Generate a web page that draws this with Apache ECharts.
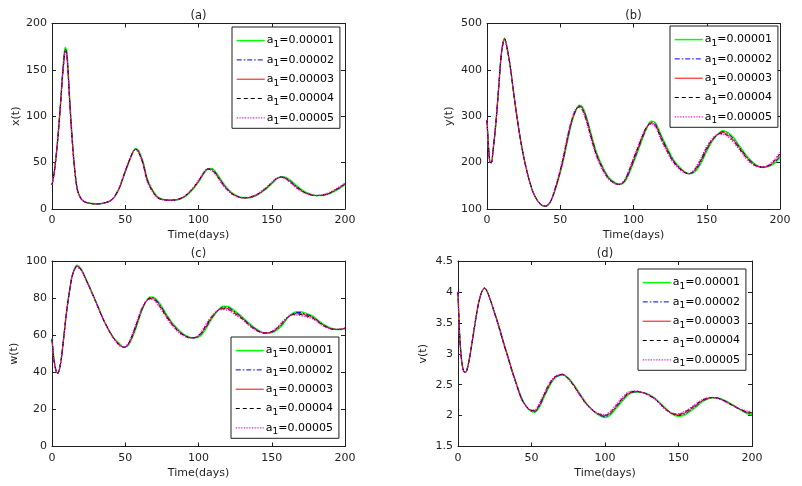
<!DOCTYPE html>
<html><head><meta charset="utf-8">
<script src="https://cdn.jsdelivr.net/npm/echarts@6/dist/echarts.min.js"></script>
<style>html,body{margin:0;padding:0;background:#fff}#c{width:802px;height:486px}</style>
</head><body><div id="c"></div>
<script>
// ---------- data ----------
const A1_VALUES = ['0.00001','0.00002','0.00003','0.00004','0.00005'];
const PANEL_TITLES = ['(a)','(b)','(c)','(d)'];
const Y_NAMES = ['x(t)','y(t)','w(t)','v(t)'];
const X_NAME = 'Time(days)';
const X_TICKS = [0, 200, 50];
const Y_TICKS_A = [0, 200, 50];
const Y_TICKS_B = [100, 500, 100];
const Y_TICKS_C = [0, 100, 20];
const Y_TICKS_D = [1.5, 4.5, 0.5];

const TIME_A = [0,1,2,3,4,5,6,7,8,9,10,11,12,13,14,15,16,17,18,20,22,25,30,35,40,43,46,49,52,55,57,59,62,65,68,72,76,80,85,90,95,100,103,106,109,113,117,121,125,130,135,140,145,150,153,156,159,163,167,171,175,180,185,190,195,200];
const X_A1 = [26,34,45,60,77,96,118,142,161,174,171,150,121,95,72,52,36,24,17.5,10.8,8.2,6.4,5.5,6.1,8.8,13.6,22.4,35.2,48.3,60.3,65,63.2,51.8,32.8,22.2,13.2,10.4,9.5,9.8,12.5,19.2,29,36.6,42.7,43.7,37,27.5,20,15.2,12.3,12.2,15,20.2,27.2,32,34.6,34.4,30.5,25,20.2,16.8,14.6,14.6,17,21,26];
const X_A2 = [26,34,45,60,77,96,117.5,141,159.5,172.5,169.5,148.5,119.5,94,71,51,35.5,23.5,17.2,10.6,8.1,6.3,5.5,6.2,8.9,13.8,22.7,35.6,48.7,60.4,64.8,62.6,50.9,31.9,21.6,12.8,10.2,9.45,9.9,12.8,19.6,29.5,37,42.9,43.1,36.2,26.8,19.5,14.8,12.1,12.3,15.2,20.6,27.6,32.3,34.5,33.9,29.8,24.2,19.6,16.4,14.5,14.8,17.2,21.5,26.5];
const X_A3 = [26,34,45,60,77,96,117,140,158,171,168,147,118,93,70,50,35,23,17,10.5,8,6.3,5.5,6.2,9,14,23,36,49,60.5,64.5,62,50,31,21,12.5,10,9.4,10,13,20,30,37.5,43,42.5,35.5,26,19,14.5,12,12.5,15.5,21,28,32.5,34.3,33.5,29,23.5,19,16,14.5,15,17.5,22,27];
const X_A4 = [26,34,45,60,77,96,116.5,139,157,170,167,146,117,92,69,49.5,34.5,22.8,16.8,10.4,7.9,6.3,5.5,6.3,9.1,14.2,23.4,36.5,49.5,60.7,64.3,61.5,49.3,30.3,20.5,12.2,9.9,9.4,10.1,13.2,20.4,30.5,38,43.2,42,34.8,25.4,18.6,14.3,12,12.7,15.8,21.4,28.4,32.8,34.2,33.1,28.4,23,18.7,15.8,14.5,15.2,17.8,22.4,27.4];
const X_A5 = [26,34,45,60,77,96,116,138,156,169,166,145,116,91,68,49,34,22.5,16.6,10.3,7.8,6.2,5.5,6.3,9.2,14.4,23.8,37,50,61,64,61,48.6,29.6,20,11.9,9.8,9.4,10.2,13.5,20.8,31,38.5,43.2,41.5,34,24.8,18.2,14,12,12.9,16.1,21.8,28.8,33,34,32.6,27.8,22.5,18.3,15.6,14.5,15.4,18.2,22.8,27.8];

const TIME_B = [0,1,2,3,4,6,8,10,12,14,16,19,22,25,28,31,34,37,40,43,46,49,52,55,58,61,63,65,68,71,75,79,83,87,90,94,98,102,106,109,112,115,119,123,127,131,135,138,142,146,150,154,158,161,164,168,172,176,180,184,188,192,196,200];
const Y_B1 = [292,235,201,200,222,283,363,440,468,443,404,331,266,213,172,140,120,109,106,114,135.6,166.7,202.8,247.4,288.5,314.5,323.5,320.5,297.5,262.5,219.5,190.6,168.4,157.2,153,158.6,184.2,216.4,250.6,274,289,285.8,258.4,231.8,207.6,191.4,180.2,176,180.4,198.6,225,247.4,262.7,269,265.8,255,237.3,220,205,194.5,189.5,191.5,198,210];
const Y_B2 = [292,235,201,200,222,283,363,440,467.5,442.5,404,331,266,213,172,140,120,109,106,114,136.8,168.4,205.4,250.2,290.2,315.2,322.2,318.8,294.8,259.8,217.2,188.8,167.2,156.6,153,159.8,186.6,219.2,252.8,275,287.5,283.4,255.7,229.4,205.8,190.2,179.6,176,182.2,201.3,227.5,248.7,262.3,267,263.4,252.5,235.2,218,203.5,193.8,189.8,192.2,200,213];
const Y_B3 = [292,235,201,200,222,283,363,440,467,442,404,331,266,213,172,140,120,109,106,114,138,170,208,253,292,316,321,317,292,257,215,187,166,156,153,161,189,222,255,276,286,281,253,227,204,189,179,176,184,204,230,250,262,265,261,250,233,216,202,193,190,193,202,216];
const Y_B4 = [292,235,201,200,222,283,363,440,466.5,441.5,404,331,266,213,172,140,120,109,106,114,139.2,171.6,210.6,255.8,293.7,316.8,319.8,315.2,289.2,254.2,212.8,185.2,164.8,155.4,153.1,162.2,191.4,224.8,257.2,277,284.5,278.6,250.3,224.6,202.2,187.8,178.4,176.1,185.8,206.7,232.5,251.3,261.6,263,258.6,247.5,230.8,214,200.5,192.2,190.2,193.8,204,219];
const Y_B5 = [292,235,201,200,222,283,363,440,466,441,404,331,266,213,172,140,120,109,106,114,140.4,173.3,213.2,258.6,295.4,317.5,318.5,313.5,286.5,251.5,210.5,183.4,163.6,154.8,153.2,163.4,193.8,227.6,259.4,278,283,276.2,247.6,222.2,200.4,186.6,177.8,176.3,187.6,209.4,235,252.6,261.3,261,256.2,245,228.7,212,199,191.5,190.5,194.5,206,222];

const TIME_C = [0,1,2,3,4,6,8,10,12,14,17,20,23,26,30,34,38,42,46,49,52,55,58,61,64,67,70,74,78,82,86,90,94,97,101,105,109,113,117,121,125,129,133,137,141,145,149,153,157,161,164,167,170,174,178,182,186,190,194,197,200];
const W_C1 = [58,49,43.5,40.3,39.5,45.5,58.6,72.9,84,92.7,97.7,95.6,90.6,85.4,78,70.5,64,58.7,55.45,53.5,54.4,59.1,65.4,72.6,77.8,80.6,80.15,76.6,71.4,66.8,63.2,60.45,58.9,58.6,59.4,63.4,68.8,73.1,75.6,75.2,73,70.4,67.5,64.8,62.6,61.2,61.2,62.6,65.3,69.5,71.6,72.7,72.65,71.6,70.25,67.75,65.5,63.9,63.1,63.1,63.5];
const W_C2 = [58,49,43.5,40.3,39.5,45.5,58.65,72.95,84,92.6,97.45,95.4,90.45,85.3,77.9,70.4,63.9,58.6,55.1,53.5,54.7,59.55,65.95,72.95,77.9,80.3,79.8,76.05,70.95,66.4,62.85,60.2,58.8,58.6,59.8,64,69.2,73.15,75.15,74.7,72.5,70.05,67.15,64.5,62.4,61.2,61.35,62.9,65.75,69.6,71.4,72.25,72.1,71.15,69.9,67.5,65.25,63.75,63.1,63.15,63.6];
const W_C3 = [58,49,43.5,40.3,39.5,45.5,58.7,73,84,92.5,97.2,95.2,90.3,85.2,77.8,70.3,63.8,58.5,54.8,53.5,55,60,66.5,73.3,78,80,79.4,75.5,70.5,66,62.5,60,58.7,58.6,60.2,64.6,69.6,73.2,74.7,74.2,72,69.7,66.8,64.2,62.2,61.2,61.5,63.2,66.2,69.7,71.2,71.8,71.6,70.7,69.5,67.2,65,63.6,63.1,63.2,63.7];
const W_C4 = [58,49,43.5,40.3,39.5,45.5,58.75,73.05,84,92.4,97,95.1,90.2,85.1,77.7,70.2,63.7,58.4,54.5,53.5,55.3,60.45,67.05,73.65,78.1,79.7,79,74.95,70.05,65.6,62.15,59.8,58.6,58.6,60.6,65.2,70,73.25,74.25,73.7,71.5,69.35,66.45,63.9,62,61.2,61.65,63.5,66.65,69.8,71,71.35,71.1,70.25,69.1,66.9,64.75,63.45,63.1,63.25,63.8];
const W_C5 = [58,49,43.5,40.3,39.5,45.5,58.8,73.1,84,92.3,96.8,94.9,90,85,77.6,70.1,63.6,58.3,54.15,53.5,55.6,60.9,67.6,74,78.2,79.4,78.65,74.4,69.6,65.2,61.8,59.55,58.5,58.6,61,65.8,70.4,73.3,73.8,73.2,71,69,66.1,63.6,61.8,61.2,61.8,63.8,67.1,69.9,70.8,70.9,70.55,69.8,68.75,66.65,64.5,63.3,63.1,63.3,63.9];

const TIME_D = [0,1,2,3,4,5,6,8,10,12,14,16,18,20,22,25,28,31,34,37,40,43,46,49,52,55,58,61,64,67,71,75,79,83,87,91,95,100,104,108,112,116,121,126,130,134,138,142,146,150,154,158,162,166,170,173,177,181,185,189,193,197,200];
const V_D1 = [4.0,3.35,3.0,2.8,2.71,2.7,2.73,2.95,3.25,3.55,3.82,3.99,4.06,4.0,3.87,3.66,3.43,3.18,2.95,2.71,2.5,2.3,2.16,2.08,2.055,2.12,2.27,2.42,2.55,2.625,2.655,2.61,2.49,2.35,2.21,2.1,2.02,1.97,2.02,2.13,2.24,2.34,2.38,2.37,2.34,2.28,2.19,2.1,2.02,1.99,2.01,2.07,2.14,2.22,2.27,2.29,2.285,2.25,2.2,2.14,2.08,2.03,2.01];
const V_D2 = [4.0,3.35,3.0,2.8,2.71,2.7,2.73,2.95,3.25,3.55,3.82,3.99,4.06,4.0,3.87,3.655,3.425,3.175,2.945,2.705,2.495,2.295,2.16,2.085,2.06,2.135,2.285,2.435,2.56,2.632,2.66,2.605,2.485,2.34,2.205,2.1,2.025,1.982,2.035,2.145,2.255,2.35,2.385,2.37,2.335,2.275,2.185,2.095,2.025,2.0,2.025,2.085,2.155,2.23,2.275,2.29,2.283,2.245,2.195,2.14,2.085,2.04,2.022];
const V_D3 = [4.0,3.35,3.0,2.8,2.71,2.7,2.73,2.95,3.25,3.55,3.82,3.99,4.06,4.0,3.87,3.65,3.44,3.19,2.95,2.72,2.49,2.27,2.17,2.09,2.07,2.15,2.3,2.45,2.57,2.64,2.665,2.6,2.48,2.33,2.2,2.1,2.03,1.995,2.05,2.16,2.27,2.36,2.39,2.37,2.33,2.27,2.18,2.09,2.03,2.01,2.04,2.1,2.17,2.24,2.28,2.29,2.28,2.24,2.19,2.14,2.09,2.05,2.035];
const V_D4 = [4.0,3.35,3.0,2.8,2.71,2.7,2.73,2.95,3.25,3.55,3.82,3.99,4.06,4.0,3.87,3.645,3.415,3.165,2.935,2.695,2.485,2.285,2.16,2.095,2.08,2.165,2.315,2.465,2.58,2.645,2.668,2.595,2.475,2.325,2.195,2.1,2.035,2.005,2.065,2.175,2.285,2.37,2.395,2.37,2.325,2.265,2.175,2.085,2.035,2.02,2.055,2.115,2.185,2.25,2.285,2.292,2.277,2.235,2.185,2.135,2.095,2.06,2.047];
const V_D5 = [4.0,3.35,3.0,2.8,2.71,2.7,2.73,2.95,3.25,3.55,3.82,3.99,4.06,4.0,3.87,3.64,3.41,3.16,2.93,2.69,2.48,2.28,2.16,2.1,2.09,2.18,2.33,2.48,2.59,2.65,2.67,2.59,2.47,2.32,2.19,2.1,2.04,2.015,2.08,2.19,2.3,2.38,2.4,2.37,2.32,2.26,2.17,2.08,2.04,2.03,2.065,2.125,2.195,2.255,2.29,2.294,2.274,2.23,2.18,2.13,2.1,2.07,2.06];

// ---------- styling / layout ----------
const FONT = 'DejaVu Sans';
const INK = '#1f1f1f';
const COLORS = ['#00ff00','#0000ff','#ff0000','#000000','#ff00ff'];
const DASHES = ['solid',[5,2,1.5,2],'solid',[4,3],[1.2,1.5]];
const WIDTHS = [1.5,1,1,1,1.3];

const PANELS = [
  {time: TIME_A, ys: [X_A1,X_A2,X_A3,X_A4,X_A5], yt: Y_TICKS_A,
   grid: {left:52, top:23.5, width:293, height:185.5}, legend: {left:232, top:27}, nameGap: 30},
  {time: TIME_B, ys: [Y_B1,Y_B2,Y_B3,Y_B4,Y_B5], yt: Y_TICKS_B,
   grid: {left:487, top:23.5, width:293, height:185.5}, legend: {left:670, top:26}, nameGap: 32},
  {time: TIME_C, ys: [W_C1,W_C2,W_C3,W_C4,W_C5], yt: Y_TICKS_C,
   grid: {left:52, top:261, width:293, height:185.5}, legend: {left:231, top:337}, nameGap: 32},
  {time: TIME_D, ys: [V_D1,V_D2,V_D3,V_D4,V_D5], yt: Y_TICKS_D,
   grid: {left:458, top:261, width:294, height:185.5}, legend: {left:638, top:269}, nameGap: 29}
];

const seriesName = v => 'a1=' + v;
const textBase = {fontFamily: FONT, fontSize: 11, color: INK};

const option = {
  animation: false,
  backgroundColor: '#fff',
  title: [], grid: [], xAxis: [], yAxis: [], legend: [], series: []
};

PANELS.forEach((p, k) => {
  const g = p.grid;
  option.grid.push(Object.assign({containLabel: false, outerBoundsMode: 'none'}, g));
  option.title.push({
    text: PANEL_TITLES[k], left: g.left + g.width / 2, top: g.top - 13, textAlign: 'center', padding: 0,
    textStyle: Object.assign({}, textBase, {fontSize: 11.5, fontWeight: 'normal'})
  });
  const axisLine = {show: true, onZero: false, lineStyle: {color: INK, width: 1}};
  const tick = {show: true, inside: true, length: 4, lineStyle: {color: INK}};
  const xBase = {type: 'value', gridIndex: k, min: X_TICKS[0], max: X_TICKS[1], interval: X_TICKS[2],
                 axisLine, axisTick: tick, splitLine: {show: false}};
  option.xAxis.push(Object.assign({}, xBase, {
    position: 'bottom', name: X_NAME, nameLocation: 'middle', nameGap: 21,
    nameTextStyle: textBase, axisLabel: Object.assign({margin: 6}, textBase)
  }));
  option.xAxis.push(Object.assign({}, xBase, {position: 'top', axisLabel: {show: false}}));
  const yBase = {type: 'value', gridIndex: k, min: p.yt[0], max: p.yt[1], interval: p.yt[2],
                 axisLine, axisTick: tick, splitLine: {show: false}};
  option.yAxis.push(Object.assign({}, yBase, {
    position: 'left', name: Y_NAMES[k], nameLocation: 'middle', nameGap: p.nameGap, nameRotate: 90,
    nameTextStyle: textBase, axisLabel: Object.assign({margin: 5}, textBase)
  }));
  option.yAxis.push(Object.assign({}, yBase, {position: 'right', axisLabel: {show: false}}));

  option.legend.push({
    left: p.legend.left, top: p.legend.top, orient: 'vertical',
    data: A1_VALUES.map(seriesName),
    backgroundColor: '#fff', borderColor: INK, borderWidth: 1, borderRadius: 0,
    padding: [8, 6, 2, 4], itemGap: 5.2, itemWidth: 28, itemHeight: 14,
    selectedMode: false,
    itemStyle: {opacity: 0, borderWidth: 0},
    lineStyle: {width: 'inherit'},
    formatter: name => '{m|a}{s|1}{m|=' + name.split('=')[1] + '}',
    textStyle: {
      fontFamily: FONT, fontSize: 11, color: '#000', padding: [0, 0, 0, -3],
      rich: {
        m: {fontFamily: FONT, fontSize: 11, color: '#000'},
        s: {fontFamily: FONT, fontSize: 9, color: '#000', padding: [8, 0, 0, 0]}
      }
    }
  });

  p.ys.forEach((vals, i) => {
    option.series.push({
      type: 'line', name: seriesName(A1_VALUES[i]), xAxisIndex: 2 * k, yAxisIndex: 2 * k,
      data: p.time.map((t, j) => [t, vals[j]]),
      smooth: 0.3, symbol: 'none', showSymbol: false, silent: true,
      lineStyle: {color: COLORS[i], width: WIDTHS[i], type: DASHES[i]},
      itemStyle: {color: COLORS[i]}, z: 2 + i
    });
  });
});

const chart = echarts.init(document.getElementById('c'), null, {renderer: 'canvas'});
chart.setOption(option);
</script>
</body></html>
